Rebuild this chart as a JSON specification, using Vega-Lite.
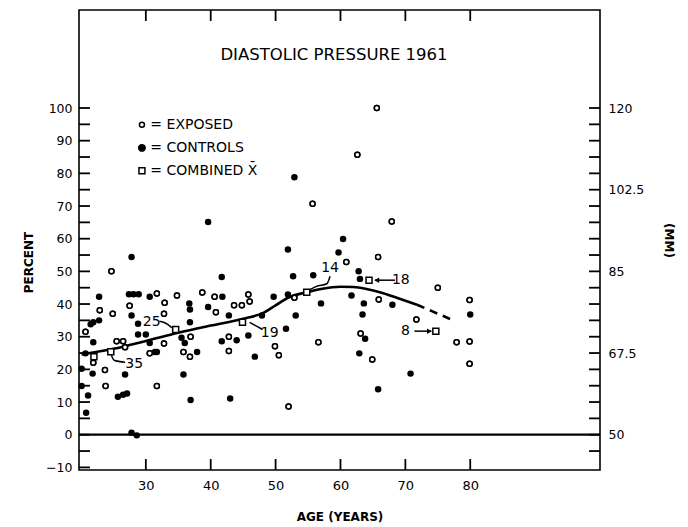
{
  "$schema": "https://vega.github.io/schema/vega-lite/v6.json",
  "width": 521,
  "height": 460,
  "autosize": {"type": "none"},
  "padding": {"left": 79, "top": 10, "right": 88, "bottom": 57},
  "background": "white",
  "config": {
    "view": {"stroke": "black", "strokeWidth": 1.6},
    "font": "DejaVu Sans",
    "axis": {"domain": false, "grid": false, "ticks": false, "tickSize": 0, "offset": 0, "labelColor": "black", "labelFont": "DejaVu Sans", "labelFontSize": 12.5, "titleFont": "DejaVu Sans", "titleFontSize": 12, "titleFontWeight": "bold", "titleColor": "black", "titleBaseline": "middle"}
  },
  "datasets": {
    "exposed": [
      {"age": 24.7, "pct": 50.0}, {"age": 31.7, "pct": 43.2}, {"age": 34.8, "pct": 42.6}, {"age": 38.7, "pct": 43.5},
      {"age": 40.6, "pct": 42.2}, {"age": 45.8, "pct": 42.9}, {"age": 27.5, "pct": 39.5}, {"age": 22.9, "pct": 38.1},
      {"age": 24.9, "pct": 37.0}, {"age": 20.7, "pct": 31.5}, {"age": 21.9, "pct": 22.0}, {"age": 23.7, "pct": 19.8},
      {"age": 23.8, "pct": 14.9}, {"age": 25.5, "pct": 28.6}, {"age": 26.5, "pct": 28.6}, {"age": 26.8, "pct": 26.8},
      {"age": 30.6, "pct": 24.9}, {"age": 31.7, "pct": 14.9}, {"age": 32.9, "pct": 40.4}, {"age": 32.8, "pct": 37.0},
      {"age": 32.8, "pct": 27.9}, {"age": 35.8, "pct": 25.3}, {"age": 36.8, "pct": 23.9}, {"age": 36.9, "pct": 30.0},
      {"age": 40.8, "pct": 37.5}, {"age": 42.8, "pct": 30.0}, {"age": 42.8, "pct": 25.6}, {"age": 43.6, "pct": 39.6},
      {"age": 44.8, "pct": 39.6}, {"age": 46.0, "pct": 40.8}, {"age": 65.6, "pct": 100.0}, {"age": 62.6, "pct": 85.7},
      {"age": 55.7, "pct": 70.7}, {"age": 67.9, "pct": 65.3}, {"age": 60.9, "pct": 52.9}, {"age": 65.8, "pct": 54.4},
      {"age": 75.0, "pct": 45.0}, {"age": 65.9, "pct": 41.4}, {"age": 79.9, "pct": 41.2}, {"age": 52.9, "pct": 41.9},
      {"age": 49.9, "pct": 27.1}, {"age": 50.5, "pct": 24.3}, {"age": 56.6, "pct": 28.3}, {"age": 63.1, "pct": 31.0},
      {"age": 64.9, "pct": 23.0}, {"age": 52.0, "pct": 8.6}, {"age": 71.7, "pct": 35.3}, {"age": 77.9, "pct": 28.3},
      {"age": 79.9, "pct": 28.5}, {"age": 79.9, "pct": 21.7}
    ],
    "controls": [
      {"age": 27.8, "pct": 54.4}, {"age": 39.6, "pct": 65.1}, {"age": 41.7, "pct": 48.3}, {"age": 22.8, "pct": 42.2},
      {"age": 27.4, "pct": 43.0}, {"age": 28.1, "pct": 43.0}, {"age": 28.9, "pct": 43.0}, {"age": 30.6, "pct": 42.2},
      {"age": 41.8, "pct": 42.2}, {"age": 27.8, "pct": 36.5}, {"age": 22.8, "pct": 35.0}, {"age": 21.5, "pct": 33.8},
      {"age": 21.9, "pct": 34.4}, {"age": 21.9, "pct": 28.3}, {"age": 20.7, "pct": 24.9}, {"age": 21.8, "pct": 18.7},
      {"age": 20.1, "pct": 20.2}, {"age": 20.1, "pct": 14.9}, {"age": 21.1, "pct": 12.0}, {"age": 20.8, "pct": 6.7},
      {"age": 26.8, "pct": 18.4}, {"age": 25.7, "pct": 11.6}, {"age": 26.5, "pct": 12.2}, {"age": 27.1, "pct": 12.6},
      {"age": 27.8, "pct": 0.6}, {"age": 28.6, "pct": -0.2}, {"age": 28.8, "pct": 34.0}, {"age": 28.8, "pct": 30.7},
      {"age": 30.0, "pct": 30.7}, {"age": 30.6, "pct": 28.1}, {"age": 31.4, "pct": 25.3}, {"age": 31.7, "pct": 25.3},
      {"age": 36.7, "pct": 40.2}, {"age": 36.8, "pct": 38.3}, {"age": 36.8, "pct": 34.4}, {"age": 35.5, "pct": 29.7},
      {"age": 36.0, "pct": 28.1}, {"age": 37.9, "pct": 25.3}, {"age": 35.8, "pct": 18.4}, {"age": 36.9, "pct": 10.6},
      {"age": 39.6, "pct": 39.1}, {"age": 42.8, "pct": 36.5}, {"age": 41.7, "pct": 28.6}, {"age": 44.0, "pct": 28.9},
      {"age": 45.8, "pct": 30.4}, {"age": 46.8, "pct": 23.9}, {"age": 43.0, "pct": 11.1}, {"age": 47.9, "pct": 36.5},
      {"age": 52.9, "pct": 78.8}, {"age": 60.4, "pct": 59.9}, {"age": 51.9, "pct": 56.7}, {"age": 59.7, "pct": 55.8},
      {"age": 52.7, "pct": 48.5}, {"age": 55.8, "pct": 48.8}, {"age": 62.8, "pct": 50.0}, {"age": 63.0, "pct": 47.7},
      {"age": 49.7, "pct": 42.2}, {"age": 51.9, "pct": 42.9}, {"age": 61.7, "pct": 42.6}, {"age": 57.0, "pct": 40.2},
      {"age": 63.6, "pct": 40.2}, {"age": 68.0, "pct": 39.8}, {"age": 63.4, "pct": 36.8}, {"age": 53.1, "pct": 36.5},
      {"age": 51.6, "pct": 32.4}, {"age": 63.8, "pct": 29.4}, {"age": 62.9, "pct": 24.9}, {"age": 65.8, "pct": 13.9},
      {"age": 70.8, "pct": 18.7}, {"age": 80.0, "pct": 36.8}
    ],
    "combined": [
      {"age": 22.0, "pct": 23.9}, {"age": 24.6, "pct": 25.4}, {"age": 34.6, "pct": 32.2}, {"age": 44.9, "pct": 34.4},
      {"age": 54.8, "pct": 43.6}, {"age": 64.4, "pct": 47.3}, {"age": 74.7, "pct": 31.7}
    ],
    "curve": [
      {"age": 20.1, "pct": 24.6}, {"age": 25.0, "pct": 26.3}, {"age": 30.0, "pct": 28.7}, {"age": 35.0, "pct": 31.2},
      {"age": 40.0, "pct": 33.4}, {"age": 45.0, "pct": 35.5}, {"age": 48.0, "pct": 37.2}, {"age": 50.0, "pct": 39.6},
      {"age": 52.0, "pct": 42.0}, {"age": 54.8, "pct": 43.6}, {"age": 57.0, "pct": 44.6}, {"age": 60.0, "pct": 45.3},
      {"age": 62.0, "pct": 45.2}, {"age": 64.0, "pct": 44.6}, {"age": 66.6, "pct": 43.3}, {"age": 69.0, "pct": 41.7},
      {"age": 71.8, "pct": 39.8}
    ],
    "curveDashed": [
      {"age": 71.8, "pct": 39.8}, {"age": 74.0, "pct": 37.9}, {"age": 77.4, "pct": 35.0}
    ],
    "leaders": [
      {"id": "a", "ord": 1, "age": 32.1, "pct": 34.7}, {"id": "a", "ord": 2, "age": 33.0, "pct": 34.2}, {"id": "a", "ord": 3, "age": 34.0, "pct": 32.8},
      {"id": "b", "ord": 1, "age": 24.7, "pct": 24.3}, {"id": "b", "ord": 2, "age": 25.1, "pct": 22.8}, {"id": "b", "ord": 3, "age": 26.8, "pct": 22.2},
      {"id": "c", "ord": 1, "age": 46.0, "pct": 34.4}, {"id": "c", "ord": 2, "age": 48.0, "pct": 32.2},
      {"id": "d", "ord": 1, "age": 55.3, "pct": 44.4}, {"id": "d", "ord": 2, "age": 56.3, "pct": 45.4}, {"id": "d", "ord": 3, "age": 57.9, "pct": 46.2}, {"id": "d", "ord": 4, "age": 58.4, "pct": 48.5},
      {"id": "e", "ord": 1, "age": 65.3, "pct": 47.3}, {"id": "e", "ord": 2, "age": 68.4, "pct": 47.3},
      {"id": "f", "ord": 1, "age": 71.4, "pct": 31.7}, {"id": "f", "ord": 2, "age": 74.0, "pct": 31.7}
    ],
    "arrows": [
      {"age": 65.6, "pct": 47.3, "shape": "triangle-left"},
      {"age": 73.7, "pct": 31.7, "shape": "triangle-right"}
    ],
    "labels": [
      {"age": 30.9, "pct": 34.4, "text": "25"}, {"age": 28.2, "pct": 21.5, "text": "35"},
      {"age": 49.1, "pct": 31.2, "text": "19"}, {"age": 58.4, "pct": 51.1, "text": "14"},
      {"age": 69.3, "pct": 47.3, "text": "18"}, {"age": 70.0, "pct": 31.7, "text": "8"}
    ],
    "legend": [
      {"age": 29.4, "pct": 94.9, "shape": "circle", "fill": "white", "size": 25, "tx": 30.7, "text": "= EXPOSED"},
      {"age": 29.4, "pct": 87.8, "shape": "circle", "fill": "black", "size": 42, "tx": 30.7, "text": "= CONTROLS"},
      {"age": 29.4, "pct": 80.8, "shape": "square", "fill": "white", "size": 36, "tx": 30.7, "text": "= COMBINED X\u0304"}
    ],
    "title": [
      {"age": 59.0, "pct": 116.3, "text": "DIASTOLIC PRESSURE 1961"}
    ],
    "tickmarks": [
      {"side": "bottom", "v": 30}, {"side": "bottom", "v": 40}, {"side": "bottom", "v": 50}, {"side": "bottom", "v": 60}, {"side": "bottom", "v": 70}, {"side": "bottom", "v": 80},
      {"side": "top", "v": 30}, {"side": "top", "v": 40}, {"side": "top", "v": 50}, {"side": "top", "v": 60}, {"side": "top", "v": 70}, {"side": "top", "v": 80},
      {"side": "left", "v": -10}, {"side": "left", "v": -5}, {"side": "left", "v": 0}, {"side": "left", "v": 5}, {"side": "left", "v": 10}, {"side": "left", "v": 15},
      {"side": "left", "v": 20}, {"side": "left", "v": 25}, {"side": "left", "v": 30}, {"side": "left", "v": 35}, {"side": "left", "v": 40}, {"side": "left", "v": 45},
      {"side": "left", "v": 50}, {"side": "left", "v": 55}, {"side": "left", "v": 60}, {"side": "left", "v": 65}, {"side": "left", "v": 70}, {"side": "left", "v": 75},
      {"side": "left", "v": 80}, {"side": "left", "v": 85}, {"side": "left", "v": 90}, {"side": "left", "v": 95}, {"side": "left", "v": 100},
      {"side": "right", "v": -5}, {"side": "right", "v": 0}, {"side": "right", "v": 5}, {"side": "right", "v": 10}, {"side": "right", "v": 15},
      {"side": "right", "v": 20}, {"side": "right", "v": 25}, {"side": "right", "v": 30}, {"side": "right", "v": 35}, {"side": "right", "v": 40}, {"side": "right", "v": 45},
      {"side": "right", "v": 50}, {"side": "right", "v": 55}, {"side": "right", "v": 60}, {"side": "right", "v": 65}, {"side": "right", "v": 70}, {"side": "right", "v": 75},
      {"side": "right", "v": 80}, {"side": "right", "v": 85}, {"side": "right", "v": 90}, {"side": "right", "v": 95}, {"side": "right", "v": 100}
    ]
  },
  "layer": [
    {
      "data": {"name": "exposed"},
      "mark": {"type": "point", "shape": "circle", "filled": true, "fill": "white", "stroke": "black", "strokeWidth": 1.5, "size": 25, "opacity": 1},
      "encoding": {
        "x": {"field": "age", "type": "quantitative", "scale": {"domain": [19.7, 100], "nice": false, "zero": false},
          "axis": {"orient": "bottom", "values": [30, 40, 50, 60, 70, 80], "labelPadding": 9, "labelFontSize": 13, "title": "AGE (YEARS)", "titleY": 46}},
        "y": {"field": "pct", "type": "quantitative", "scale": {"domain": [-10.8, 130], "nice": false, "zero": false},
          "axis": {"orient": "left", "values": [-10, 0, 10, 20, 30, 40, 50, 60, 70, 80, 90, 100],
            "labelPadding": 7, "title": "PERCENT", "titleX": -51, "titleY": 252}}
      }
    },
    {
      "data": {"name": "controls"},
      "mark": {"type": "point", "shape": "circle", "filled": true, "fill": "black", "stroke": null, "size": 42, "opacity": 1},
      "encoding": {
        "x": {"field": "age", "type": "quantitative", "scale": {"domain": [19.7, 100], "nice": false, "zero": false}, "axis": null},
        "y": {"field": "pct", "type": "quantitative", "scale": {"domain": [-10.8, 130], "nice": false, "zero": false},
          "axis": {"orient": "right", "values": [0, 25, 50, 75, 100],
            "labelExpr": "datum.value == 0 ? '50' : datum.value == 25 ? '67.5' : datum.value == 50 ? '85' : datum.value == 75 ? '102.5' : '120'",
            "labelPadding": 8, "title": "(MM)", "titleAngle": 90, "titleX": 68, "titleY": 230}}
      }
    },
    {
      "data": {"name": "tickmarks"},
      "transform": [{"filter": "datum.side == 'left' || datum.side == 'right'"}],
      "mark": {"type": "point", "shape": "stroke", "filled": false, "stroke": "black", "strokeWidth": 1.8, "size": 480, "opacity": 1, "clip": true},
      "encoding": {
        "y": {"field": "v", "type": "quantitative", "scale": {"domain": [-10.8, 130], "nice": false, "zero": false}, "axis": null},
        "x": {"field": "side", "type": "nominal", "scale": {"type": "point", "domain": ["left", "right"], "range": [0, 521], "padding": 0}, "axis": null}
      }
    },
    {
      "data": {"name": "tickmarks"},
      "transform": [{"filter": "datum.side == 'top' || datum.side == 'bottom'"}],
      "mark": {"type": "point", "shape": "M 0 -1 L 0 1", "filled": false, "stroke": "black", "strokeWidth": 1.8, "size": 480, "opacity": 1, "clip": true},
      "encoding": {
        "x": {"field": "v", "type": "quantitative", "scale": {"domain": [19.7, 100], "nice": false, "zero": false}, "axis": null},
        "y": {"field": "side", "type": "nominal", "scale": {"type": "point", "domain": ["top", "bottom"], "range": [0, 460], "padding": 0}, "axis": null}
      }
    },
    {
      "data": {"values": [{"v": 0}]},
      "mark": {"type": "rule", "stroke": "black", "strokeWidth": 2.2},
      "encoding": {"y": {"field": "v", "type": "quantitative", "scale": {"domain": [-10.8, 130], "nice": false, "zero": false}, "axis": null}}
    },
    {
      "data": {"name": "curve"},
      "mark": {"type": "line", "stroke": "black", "strokeWidth": 2.6, "interpolate": "monotone"},
      "encoding": {
        "x": {"field": "age", "type": "quantitative", "scale": {"domain": [19.7, 100], "nice": false, "zero": false}, "axis": null},
        "y": {"field": "pct", "type": "quantitative", "scale": {"domain": [-10.8, 130], "nice": false, "zero": false}, "axis": null}
      }
    },
    {
      "data": {"name": "curveDashed"},
      "mark": {"type": "line", "stroke": "black", "strokeWidth": 2.6, "strokeDash": [8, 6], "interpolate": "monotone"},
      "encoding": {
        "x": {"field": "age", "type": "quantitative", "scale": {"domain": [19.7, 100], "nice": false, "zero": false}, "axis": null},
        "y": {"field": "pct", "type": "quantitative", "scale": {"domain": [-10.8, 130], "nice": false, "zero": false}, "axis": null}
      }
    },
    {
      "data": {"name": "leaders"},
      "mark": {"type": "line", "stroke": "black", "strokeWidth": 1.5, "interpolate": "monotone"},
      "encoding": {
        "x": {"field": "age", "type": "quantitative", "scale": {"domain": [19.7, 100], "nice": false, "zero": false}, "axis": null},
        "y": {"field": "pct", "type": "quantitative", "scale": {"domain": [-10.8, 130], "nice": false, "zero": false}, "axis": null},
        "detail": {"field": "id", "type": "nominal"},
        "order": {"field": "ord", "type": "quantitative"}
      }
    },
    {
      "data": {"name": "arrows"},
      "mark": {"type": "point", "filled": true, "fill": "black", "stroke": null, "size": 30, "opacity": 1},
      "encoding": {
        "x": {"field": "age", "type": "quantitative", "scale": {"domain": [19.7, 100], "nice": false, "zero": false}, "axis": null},
        "y": {"field": "pct", "type": "quantitative", "scale": {"domain": [-10.8, 130], "nice": false, "zero": false}, "axis": null},
        "shape": {"field": "shape", "type": "nominal", "scale": null}
      }
    },
    {
      "data": {"name": "exposed"},
      "mark": {"type": "point", "shape": "circle", "filled": true, "fill": "white", "stroke": "black", "strokeWidth": 1.5, "size": 25, "opacity": 1},
      "encoding": {
        "x": {"field": "age", "type": "quantitative", "scale": {"domain": [19.7, 100], "nice": false, "zero": false}, "axis": null},
        "y": {"field": "pct", "type": "quantitative", "scale": {"domain": [-10.8, 130], "nice": false, "zero": false}, "axis": null}
      }
    },
    {
      "data": {"name": "combined"},
      "mark": {"type": "point", "shape": "square", "filled": true, "fill": "white", "stroke": "black", "strokeWidth": 1.5, "size": 36, "opacity": 1},
      "encoding": {
        "x": {"field": "age", "type": "quantitative", "scale": {"domain": [19.7, 100], "nice": false, "zero": false}, "axis": null},
        "y": {"field": "pct", "type": "quantitative", "scale": {"domain": [-10.8, 130], "nice": false, "zero": false}, "axis": null}
      }
    },
    {
      "data": {"name": "labels"},
      "mark": {"type": "text", "font": "DejaVu Sans", "fontSize": 14, "color": "black", "align": "center", "baseline": "middle"},
      "encoding": {
        "x": {"field": "age", "type": "quantitative", "scale": {"domain": [19.7, 100], "nice": false, "zero": false}, "axis": null},
        "y": {"field": "pct", "type": "quantitative", "scale": {"domain": [-10.8, 130], "nice": false, "zero": false}, "axis": null},
        "text": {"field": "text", "type": "nominal"}
      }
    },
    {
      "data": {"name": "legend"},
      "mark": {"type": "point", "filled": true, "stroke": "black", "strokeWidth": 1.5, "opacity": 1},
      "encoding": {
        "x": {"field": "age", "type": "quantitative", "scale": {"domain": [19.7, 100], "nice": false, "zero": false}, "axis": null},
        "y": {"field": "pct", "type": "quantitative", "scale": {"domain": [-10.8, 130], "nice": false, "zero": false}, "axis": null},
        "shape": {"field": "shape", "type": "nominal", "scale": null},
        "fill": {"field": "fill", "type": "nominal", "scale": null},
        "size": {"field": "size", "type": "quantitative", "scale": null}
      }
    },
    {
      "data": {"name": "legend"},
      "mark": {"type": "text", "font": "DejaVu Sans", "fontSize": 14, "color": "black", "align": "left", "baseline": "middle"},
      "encoding": {
        "x": {"field": "tx", "type": "quantitative", "scale": {"domain": [19.7, 100], "nice": false, "zero": false}, "axis": null},
        "y": {"field": "pct", "type": "quantitative", "scale": {"domain": [-10.8, 130], "nice": false, "zero": false}, "axis": null},
        "text": {"field": "text", "type": "nominal"}
      }
    },
    {
      "data": {"name": "title"},
      "mark": {"type": "text", "font": "DejaVu Sans", "fontSize": 16.5, "color": "black", "align": "center", "baseline": "middle"},
      "encoding": {
        "x": {"field": "age", "type": "quantitative", "scale": {"domain": [19.7, 100], "nice": false, "zero": false}, "axis": null},
        "y": {"field": "pct", "type": "quantitative", "scale": {"domain": [-10.8, 130], "nice": false, "zero": false}, "axis": null},
        "text": {"field": "text", "type": "nominal"}
      }
    }
  ],
  "resolve": {"axis": {"x": "independent", "y": "independent"}, "scale": {"x": "independent", "y": "independent"}}
}
